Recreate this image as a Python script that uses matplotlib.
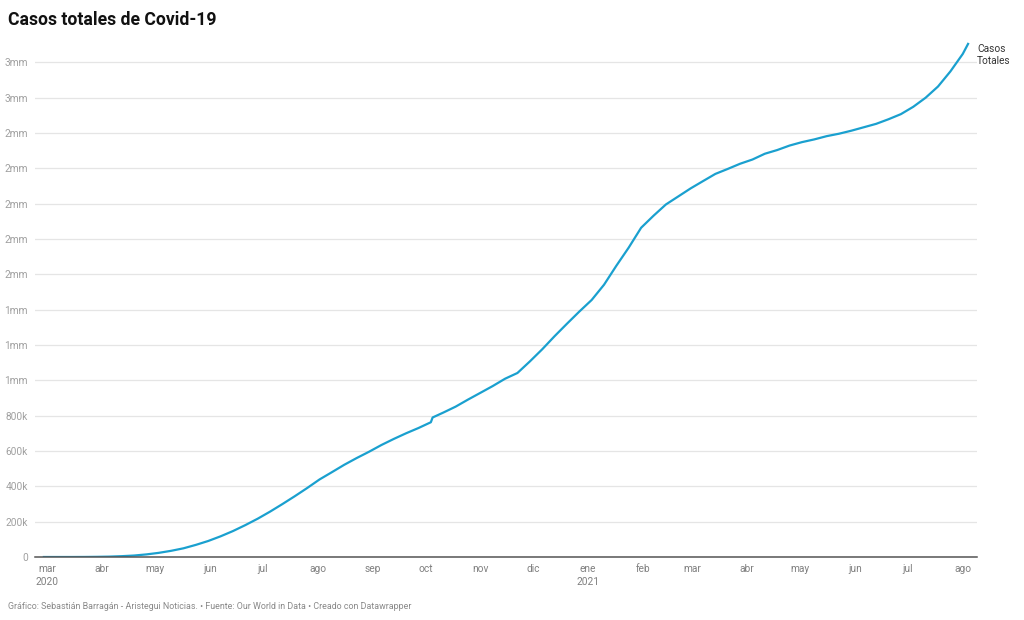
import matplotlib
matplotlib.use("Agg")
import matplotlib.pyplot as plt
import pandas as pd

# cumulative cases (roughly weekly)
dates = pd.to_datetime([
    "2020-02-28", "2020-03-08", "2020-03-15", "2020-03-22", "2020-03-29",
    "2020-04-05", "2020-04-12", "2020-04-19", "2020-04-26", "2020-05-03",
    "2020-05-10", "2020-05-17", "2020-05-24", "2020-05-31", "2020-06-07",
    "2020-06-14", "2020-06-21", "2020-06-28", "2020-07-05", "2020-07-12",
    "2020-07-19", "2020-07-26", "2020-08-02", "2020-08-09", "2020-08-16",
    "2020-08-23", "2020-08-30", "2020-09-06", "2020-09-13", "2020-09-20",
    "2020-09-27", "2020-10-04", "2020-10-05", "2020-10-11", "2020-10-18",
    "2020-10-25", "2020-11-01", "2020-11-08", "2020-11-15", "2020-11-22",
    "2020-11-29", "2020-12-06", "2020-12-13", "2020-12-20", "2020-12-27",
    "2021-01-03", "2021-01-10", "2021-01-17", "2021-01-24", "2021-01-31",
    "2021-02-07", "2021-02-14", "2021-02-21", "2021-02-28", "2021-03-07",
    "2021-03-14", "2021-03-21", "2021-03-28", "2021-04-04", "2021-04-11",
    "2021-04-18", "2021-04-25", "2021-05-02", "2021-05-09", "2021-05-16",
    "2021-05-23", "2021-05-30", "2021-06-06", "2021-06-13", "2021-06-20",
    "2021-06-27", "2021-07-04", "2021-07-11", "2021-07-18", "2021-07-25",
    "2021-08-01", "2021-08-04",
])
casos = [
    1, 7, 53, 316, 993,
    2143, 4661, 8261, 14677, 23471,
    35022, 49219, 68620, 90664, 117103,
    146837, 180545, 216852, 256848, 299750,
    344224, 390516, 439046, 480278, 522162,
    560164, 595841, 634023, 668381, 700580,
    730317, 763000, 790000, 817503, 851227,
    891160, 929392, 967825, 1009396, 1041875,
    1107071, 1175850, 1250044, 1320545, 1389430,
    1455219, 1541633, 1649502, 1752347, 1864260,
    1932145, 1995892, 2041380, 2086938, 2128165,
    2169007, 2197160, 2226550, 2250458, 2283195,
    2304096, 2329534, 2348873, 2364407, 2382745,
    2396604, 2413742, 2433126, 2452469, 2478551,
    2507453, 2548997, 2600472, 2663889, 2749233,
    2848252, 2905000,
]

yticks = [0, 200000, 400000, 600000, 800000, 1000000, 1200000, 1400000,
          1600000, 1800000, 2000000, 2200000, 2400000, 2600000, 2800000]
ytick_labels = ["0", "200k", "400k", "600k", "800k", "1mm", "1mm", "1mm",
                "2mm", "2mm", "2mm", "2mm", "2mm", "3mm", "3mm"]
month_ticks = pd.date_range("2020-03-01", "2021-08-01", freq="MS")
month_names = ["ene", "feb", "mar", "abr", "may", "jun", "jul", "ago",
               "sep", "oct", "nov", "dic"]

plt.rcParams["font.family"] = ["Roboto", "DejaVu Sans"]
BLUE = "#1aa0cf"
GREY = "#a0a0a0"

fig = plt.figure(figsize=(10.24, 6.2), dpi=100)
ax = fig.add_axes([0.0342, 0.1016, 0.9198, 0.8404])

ax.plot(dates, casos, color=BLUE, lw=1.6, solid_joinstyle="round", zorder=3)

ax.set_ylim(0, 2950000)
ax.set_xlim(pd.Timestamp("2020-02-23"), pd.Timestamp("2021-08-09"))

ax.set_yticks(yticks)
ax.set_yticklabels(ytick_labels)
ax.tick_params(axis="y", length=0, pad=5, labelsize=7.3, labelcolor=GREY)
ax.grid(axis="y", color="#e5e5e5", lw=0.9, zorder=0)

xlabels = []
for d in month_ticks:
    s = month_names[d.month - 1]
    if d.month == 3 and d.year == 2020 or d.month == 1:
        s += "\n" + str(d.year)
    xlabels.append(s)
ax.set_xticks(month_ticks)
ax.set_xticklabels(xlabels, va="top", linespacing=1.35)
ax.tick_params(axis="x", length=0, pad=5, labelsize=7.3, labelcolor="#808080")

for s in ["top", "right", "left"]:
    ax.spines[s].set_visible(False)
ax.spines["bottom"].set_color("#555555")
ax.spines["bottom"].set_linewidth(1.1)
ax.spines["bottom"].set_zorder(4)

ax.text(1.0, casos[-1], "Casos\nTotales", transform=ax.get_yaxis_transform(),
        ha="left", va="top", fontsize=7.3, color="#333333", linespacing=1.3)

fig.text(0.008, 0.983, "Casos totales de Covid-19", fontsize=12.7, fontweight="bold",
         color="#111111", ha="left", va="top")
fig.text(0.008, 0.022, "Gráfico: Sebastián Barragán - Aristegui Noticias. • Fuente: Our World in Data • Creado con Datawrapper",
         fontsize=6.4, color="#888888", ha="left", va="center")

fig.savefig("out.png", dpi=100)
